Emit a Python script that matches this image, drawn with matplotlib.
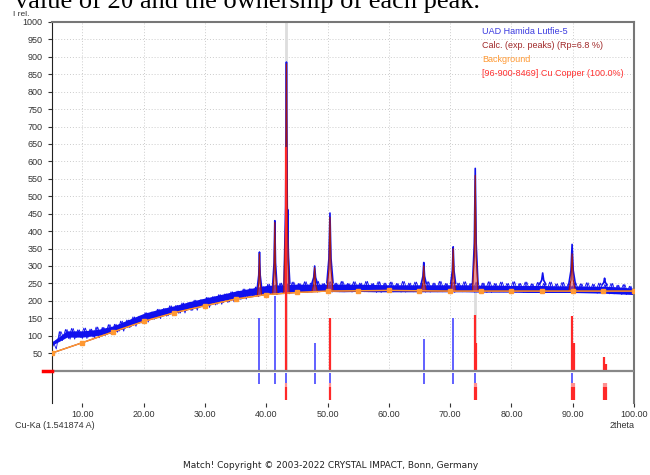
import numpy as np
import matplotlib
matplotlib.use("Agg")
from matplotlib import pyplot as plt

# observed pattern: main band (2.5 deg steps)
band_x = np.arange(5, 100.1, 2.5)
band_lo = [72, 96, 96, 101, 110, 126, 144, 156, 166, 179, 189, 199, 209, 216, 222, 225,
           225, 227, 227, 226, 227, 226, 226, 226, 226, 226, 226, 226, 225, 225, 225, 224,
           224, 224, 224, 223, 222, 220, 218]
band_hi = [82, 114, 114, 118, 128, 146, 164, 176, 186, 198, 208, 218, 228, 236, 244, 246,
           248, 248, 248, 248, 248, 247, 246, 246, 246, 246, 246, 246, 245, 245, 244, 244,
           244, 243, 243, 242, 242, 240, 236]

# observed noise extremes (1 deg steps)
obs_x = np.arange(5, 101, 1)
obs_lo = [62, 86, 92, 90, 95, 92, 96, 94, 101, 103, 110, 113, 123, 127, 136, 139, 147, 149, 156, 157,
          164, 165, 172, 173, 180, 181, 188, 190, 195, 197, 204, 205, 212, 212, 218, 218, 223, 221, 226, 224,
          228, 225, 229, 226, 229, 225, 229, 226, 230, 225, 229, 226, 230, 224, 229, 226, 230, 225, 229, 226,
          230, 225, 229, 226, 230, 224, 229, 226, 229, 225, 230, 224, 229, 226, 229, 225, 229, 224, 229, 226,
          229, 224, 228, 225, 229, 224, 228, 224, 227, 222, 226, 220, 224, 218, 221, 214]
obs_hi = [82, 112, 118, 121, 117, 122, 119, 125, 124, 132, 133, 142, 145, 154, 156, 166, 168, 176, 178, 186,
          187, 194, 195, 202, 203, 210, 212, 218, 220, 226, 228, 234, 235, 240, 241, 248, 246, 251, 249, 254,
          250, 255, 251, 256, 250, 255, 251, 256, 250, 255, 251, 256, 250, 255, 251, 254, 250, 256, 251, 254,
          250, 255, 251, 256, 250, 254, 251, 255, 250, 254, 251, 255, 250, 254, 250, 255, 250, 254, 249, 253,
          250, 254, 249, 253, 249, 252, 249, 252, 248, 251, 247, 250, 245, 247, 242, 238]

# observed peaks
obs_pos = [38.9, 41.4, 43.3, 43.5, 47.9, 50.4, 65.7, 70.5, 74.1, 85.1, 89.9, 95.2]
obs_int = [340, 430, 885, 462, 300, 452, 310, 355, 580, 280, 362, 265]
obs_foot = [238, 245, 248, 250, 250, 252, 250, 250, 249, 248, 247, 246]
obs_hw = [0.35, 0.35, 0.4, 0.35, 0.45, 0.5, 0.4, 0.4, 0.45, 0.5, 0.55, 0.4]

# background
bg_x = [5, 10, 15, 20, 25, 30, 35, 40, 45, 50, 55, 60, 65, 70, 75, 80, 85, 90, 95, 100]
bg = [50, 80, 111, 141, 166, 186, 205, 218, 224, 228, 229, 230, 229, 228, 228, 228, 228, 228, 228, 228]

# calculated peaks
calc_pos = [38.9, 41.4, 43.3, 47.9, 50.4, 65.7, 70.5, 74.1, 89.9]
calc_int = [335, 425, 880, 295, 440, 300, 350, 560, 335]
calc_foot = [216, 219, 221, 226, 228, 229, 228, 228, 228]
calc_hw = [0.35, 0.35, 0.45, 0.45, 0.5, 0.4, 0.4, 0.45, 0.55]

# peak markers
blue_pos = [38.9, 41.4, 47.9, 65.7, 70.5]
blue_h = [150, 215, 80, 90, 150]
blue_low = [38.9, 41.4, 43.3, 47.9, 50.4, 65.7, 70.5, 74.1, 89.9]
cu_pos = [43.3, 50.45, 74.1, 74.3, 89.9, 90.15, 95.1, 95.35]
cu_h = [640, 150, 160, 80, 156, 80, 40, 20]

fig = plt.figure(figsize=(6.5, 4.75), dpi=100)
ax = fig.add_axes([0.0795, 0.1516, 0.8959, 0.8021])
ax.set_xlim(5, 100)
ax.set_ylim(-93, 1000)

# grid
ax.vlines(np.arange(10, 100, 10), 0, 1000, colors="#cccccc", linestyles=(0, (1, 2)), lw=0.7, zorder=0)
ax.hlines(np.arange(50, 1000, 50), 5, 100, colors="#cccccc", linestyles=(0, (1, 2)), lw=0.7, zorder=0)
ax.vlines([43.3], 0, 1000, colors="#dddddd", lw=2, zorder=0)
ax.vlines([74.1], 0, 250, colors="#dddddd", lw=2, zorder=0)

# observed: band plus zigzag traces between the noise extremes
ax.fill_between(band_x, band_lo, band_hi, color="#1010ee", lw=0, zorder=2)
zx = np.column_stack([obs_x, obs_x + 0.5]).ravel()
ax.plot(zx, np.column_stack([obs_lo, obs_hi]).ravel(), color="#1010ee", lw=0.6, zorder=2)
ax.plot(zx + 0.25, np.column_stack([obs_hi, obs_lo]).ravel(), color="#1010ee", lw=0.6, zorder=2)
for p, h, f, w in zip(obs_pos, obs_int, obs_foot, obs_hw):
    ax.plot([p - w, p - w / 3, p, p + w / 3, p + w], [f, f + (h - f) * 0.35, h, f + (h - f) * 0.35, f],
            color="#1010ee", lw=1.2, zorder=2)

# calculated
ax.plot(bg_x, bg, color="#a01818", lw=0.9, zorder=3)
for p, h, f, w in zip(calc_pos, calc_int, calc_foot, calc_hw):
    xs = [p - w, p - w / 3, p, p + w / 3, p + w]
    ys = [f, f + (h - f) * 0.3, h, f + (h - f) * 0.3, f]
    ax.fill(xs, ys, color="#e05050", alpha=0.6, lw=0, zorder=3)
    ax.plot(xs, ys, color="#a01818", lw=0.8, zorder=3)

# background
ax.plot(bg_x, bg, color="#ff9933", lw=1.0, marker="s", ms=2.5, zorder=4)

# sticks
ax.vlines(blue_pos, 0, blue_h, colors="#6060ff", lw=1.4, zorder=5)
ax.vlines(blue_low, -8, -38, colors="#6060ff", lw=1.4, zorder=5)
ax.vlines(cu_pos, 0, cu_h, colors="#ff2828", lw=1.6, zorder=5)
ax.vlines(cu_pos, -36, -48, colors="#ff9090", lw=1.6, zorder=5)
ax.vlines(cu_pos, -48, -85, colors="#ff2828", lw=1.6, zorder=5)

# zero line
ax.axhline(0, color="#888888", lw=1.6, zorder=6)
ax.plot([3.6, 5], [0, 0], color="#ff0000", lw=2.5, clip_on=False, zorder=7)

# axes styling
ax.set_xticks(np.arange(10, 101, 10))
ax.set_xticklabels([f"{v:.2f}" for v in np.arange(10, 101, 10)])
ax.set_yticks(np.arange(50, 1001, 50))
ax.tick_params(axis="both", labelsize=6.5, colors="#333333", length=3, width=0.8)
ax.tick_params(axis="x", pad=2)
for lab in ax.get_xticklabels() + ax.get_yticklabels():
    lab.set_family("Liberation Sans")
ax.spines["bottom"].set_visible(False)
ax.spines["left"].set_color("#222222")
ax.spines["top"].set_color("#777777")
ax.spines["top"].set_linewidth(1.5)
ax.spines["right"].set_color("#777777")
ax.spines["right"].set_linewidth(1.5)

def ftext(x, y, s, **kw):
    fig.text(x / 650, 1 - y / 475, s, va="center", **kw)

ftext(13, 14, "I rel.", fontsize=6, color="#333333", family="Liberation Sans")
ftext(15, 426, "Cu-Ka (1.541874 A)", fontsize=6.5, color="#333333", family="Liberation Sans")
ftext(610, 426, "2theta", fontsize=6.5, color="#333333", family="Liberation Sans")
leg = [("UAD Hamida Lutfie-5", "#3a3ae0"), ("Calc. (exp. peaks) (Rp=6.8 %)", "#a02828"),
       ("Background", "#ff9933"), ("[96-900-8469] Cu Copper (100.0%)", "#ff3030")]
for i, (s, c) in enumerate(leg):
    ftext(482, 31 + 14 * i, s, fontsize=6.5, color=c, family="Liberation Sans")
ftext(331, 465, "Match! Copyright \u00a9 2003-2022 CRYSTAL IMPACT, Bonn, Germany",
      fontsize=6.5, color="#222222", family="DejaVu Sans", ha="center")
# caption of the surrounding document, cut off at the top edge
fig.text(15 / 650, 1 - 8 / 475, "value of 2\u03b8 and the ownership of each peak.",
         fontsize=19, family="Liberation Serif", va="baseline")

fig.savefig("out.png", dpi=100)
